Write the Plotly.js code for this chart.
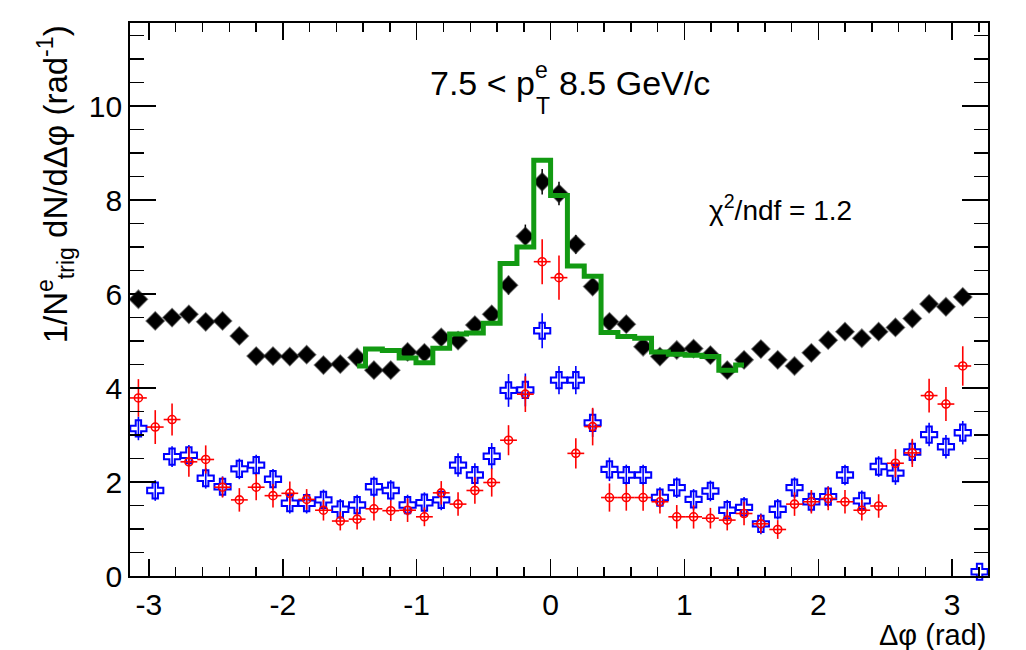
<!DOCTYPE html>
<html>
<head>
<meta charset="utf-8">
<script src="https://cdn.plot.ly/plotly-3.0.1.min.js"></script>
<style>html,body{margin:0;padding:0;background:#fff;}#chart{width:1026px;height:650px;}</style>
</head>
<body>
<div id="chart"></div>
<script>
// bin centres (Δφ, rad)
const dphi = [-3.0788,-2.9531,-2.8274,-2.7018,-2.5761,-2.4504,-2.3248,-2.1991,-2.0735,-1.9478,
  -1.8221,-1.6965,-1.5708,-1.4451,-1.3195,-1.1938,-1.0681,-0.9425,-0.8168,-0.6912,
  -0.5655,-0.4398,-0.3142,-0.1885,-0.0628,0.0628,0.1885,0.3142,0.4398,0.5655,
  0.6912,0.8168,0.9425,1.0681,1.1938,1.3195,1.4451,1.5708,1.6965,1.8221,
  1.9478,2.0735,2.1991,2.3248,2.4504,2.5761,2.7018,2.8274,2.9531,3.0788,3.2044];

// black full diamonds (50 bins)
const blackX = dphi.slice(0,50);
const blackY = [5.89,5.43,5.50,5.57,5.41,5.43,5.11,4.68,4.68,4.67,
  4.71,4.49,4.51,4.65,4.38,4.38,4.77,4.75,5.08,5.01,
  5.34,5.57,6.19,7.23,8.39,8.14,7.06,6.16,5.41,5.36,
  4.88,4.67,4.81,4.84,4.70,4.38,4.60,4.83,4.60,4.47,
  4.75,5.02,5.20,5.06,5.20,5.29,5.48,5.79,5.73,5.94];
const blackErr = [0.15,0.15,0.15,0.15,0.15,0.15,0.15,0.15,0.15,0.15,
  0.15,0.15,0.15,0.15,0.15,0.15,0.15,0.15,0.15,0.15,
  0.15,0.18,0.2,0.25,0.27,0.25,0.2,0.18,0.15,0.15,
  0.15,0.15,0.15,0.15,0.15,0.15,0.15,0.15,0.15,0.15,
  0.15,0.15,0.15,0.15,0.15,0.15,0.15,0.15,0.15,0.15];

// red open circles
const redX = dphi.slice(0,50);
const redY = [3.79,3.17,3.33,2.43,2.48,1.89,1.62,1.89,1.71,1.76,
  1.63,1.40,1.17,1.21,1.43,1.39,1.40,1.26,1.77,1.53,
  1.82,1.99,2.89,3.87,6.69,6.35,2.61,3.18,1.67,1.67,
  1.67,1.58,1.26,1.26,1.23,1.19,1.33,1.11,0.99,1.53,
  1.58,1.65,1.58,1.40,1.49,2.40,2.62,3.84,3.66,4.47];
const redErr = [0.40,0.36,0.34,0.32,0.30,0.22,0.25,0.28,0.25,0.25,
  0.22,0.22,0.20,0.22,0.25,0.22,0.25,0.20,0.25,0.25,
  0.28,0.30,0.32,0.38,0.48,0.47,0.32,0.40,0.30,0.28,
  0.28,0.25,0.25,0.25,0.22,0.22,0.25,0.20,0.20,0.25,
  0.25,0.25,0.25,0.22,0.25,0.30,0.30,0.36,0.36,0.42];
const redXErr = 0.0628;

// blue open crosses (51 bins)
const blueX = dphi;
const blueY = [3.14,1.82,2.54,2.57,2.08,1.90,2.28,2.36,2.06,1.55,
  1.55,1.62,1.42,1.51,1.90,1.82,1.51,1.56,1.62,2.36,
  2.15,2.55,3.95,3.96,5.22,4.17,4.17,3.26,2.27,2.15,
  2.15,1.67,1.88,1.63,1.81,1.40,1.46,1.11,1.42,1.88,
  1.58,1.69,2.15,1.60,2.33,2.19,2.64,3.01,2.75,3.05,0.09];
const blueErr = [0.25,0.22,0.22,0.22,0.22,0.22,0.22,0.22,0.22,0.22,
  0.22,0.22,0.22,0.22,0.22,0.22,0.22,0.22,0.22,0.25,
  0.25,0.28,0.35,0.35,0.37,0.30,0.30,0.30,0.25,0.22,
  0.22,0.22,0.22,0.22,0.22,0.22,0.22,0.22,0.22,0.22,
  0.22,0.22,0.22,0.22,0.22,0.25,0.25,0.25,0.25,0.25,0.0];

// green model histogram (bins 13..36)
const greenX = dphi.slice(13,37);
const greenY = [4.47,4.83,4.80,4.64,4.54,4.85,5.15,5.17,5.38,6.65,
  7.00,8.85,8.10,6.60,6.38,5.18,5.10,5.06,4.77,4.72,
  4.70,4.67,4.38,4.49];

const xTickVals = [-3,-2,-1,0,1,2,3];
const xTickText = ['-3','-2','-1','0','1','2','3'];
const yTickVals = [0,2,4,6,8,10];
const yTickText = ['0','2','4','6','8','10'];

const FONT = 'Liberation Sans, Arial, Helvetica, sans-serif';

const traces = [
  {type:'scatter', mode:'markers', x:blueX, y:blueY, cliponaxis:false,
   marker:{symbol:'cross-open', size:13.5, color:'#0000ff', line:{width:2, color:'#0000ff'}},
   error_y:{type:'data', array:blueErr, visible:true, color:'#0000ff', thickness:1.6, width:0},
   showlegend:false},
  {type:'scatter', mode:'markers', x:redX, y:redY,
   marker:{symbol:'circle-open', size:8, color:'#ff0000', line:{width:1.6, color:'#ff0000'}},
   error_y:{type:'data', array:redErr, visible:true, color:'#ff0000', thickness:1.6, width:0},
   error_x:{type:'constant', value:redXErr, visible:true, color:'#ff0000', thickness:1.6, width:0},
   showlegend:false},
  {type:'scatter', mode:'markers', x:blackX, y:blackY,
   marker:{symbol:'diamond', size:14, color:'#000000', line:{width:1.5, color:'rgba(40,40,40,0.55)'}},
   error_y:{type:'data', array:blackErr, visible:true, color:'#000000', thickness:1.5, width:0},
   showlegend:false},
  {type:'scatter', mode:'lines', x:greenX, y:greenY,
   line:{shape:'hvh', color:'#129a12', width:5},
   showlegend:false}
];

const layout = {
  width:1026, height:650,
  margin:{l:130, r:38, t:23, b:74},
  paper_bgcolor:'#ffffff', plot_bgcolor:'#ffffff',
  font:{family:FONT, color:'#000000', size:30},
  showlegend:false,
  xaxis:{
    range:[-3.1416, 3.2673], showgrid:false, zeroline:false,
    showline:true, linecolor:'#000000', linewidth:1.8, mirror:'ticks',
    ticks:'inside', ticklen:17, tickwidth:1.5, tickcolor:'#000000',
    tickmode:'array', tickvals:xTickVals, ticktext:xTickText,
    tickfont:{family:FONT, size:30, color:'#000000'},
    ticklabelstandoff:1,
    minor:{tickmode:'linear', tick0:0, dtick:0.2, ticks:'inside', ticklen:9, tickwidth:1.5, tickcolor:'#000000', showgrid:false}
  },
  yaxis:{
    range:[0, 11.77], showgrid:false, zeroline:false,
    showline:true, linecolor:'#000000', linewidth:1.8, mirror:'ticks',
    ticks:'inside', ticklen:26, tickwidth:1.5, tickcolor:'#000000',
    tickmode:'array', tickvals:yTickVals, ticktext:yTickText,
    tickfont:{family:FONT, size:30, color:'#000000'},
    minor:{tickmode:'linear', tick0:0, dtick:0.5, ticks:'inside', ticklen:14, tickwidth:1.5, tickcolor:'#000000', showgrid:false}
  },
  annotations:[
    {xref:'x', yref:'y', x:-0.10, y:10.5, xanchor:'right', yanchor:'middle', showarrow:false,
     text:'7.5 < p', font:{family:FONT, size:34, color:'#000000'}},
    {xref:'x', yref:'y', x:-0.07, y:10.78, xanchor:'center', yanchor:'middle', showarrow:false,
     text:'e', font:{family:FONT, size:23, color:'#000000'}},
    {xref:'x', yref:'y', x:-0.06, y:10.0, xanchor:'center', yanchor:'middle', showarrow:false,
     text:'T', font:{family:FONT, size:23, color:'#000000'}},
    {xref:'x', yref:'y', x:0.05, y:10.5, xanchor:'left', yanchor:'middle', showarrow:false,
     text:'8.5 GeV/c', font:{family:FONT, size:34, color:'#000000'}},
    {xref:'x', yref:'y', x:1.17, y:7.83, xanchor:'left', yanchor:'middle', showarrow:false,
     text:'χ<sup>2</sup>/ndf = 1.2', font:{family:FONT, size:28, color:'#000000'}},
    {xref:'paper', yref:'paper', x:1.0, y:-0.106, xanchor:'right', yanchor:'middle', showarrow:false,
     text:'Δφ (rad)', font:{family:FONT, size:29, color:'#000000'}},
    {xref:'paper', yref:'paper', x:-0.087, y:1.0, xanchor:'center', yanchor:'top', showarrow:false,
     textangle:-90,
     text:'1/N<sup>e</sup><sub>trig</sub> dN/dΔφ (rad<sup>-1</sup>)', font:{family:FONT, size:33, color:'#000000'}}
  ]
};

Plotly.newPlot('chart', traces, layout, {displayModeBar:false, staticPlot:true});
</script>
</body>
</html>
